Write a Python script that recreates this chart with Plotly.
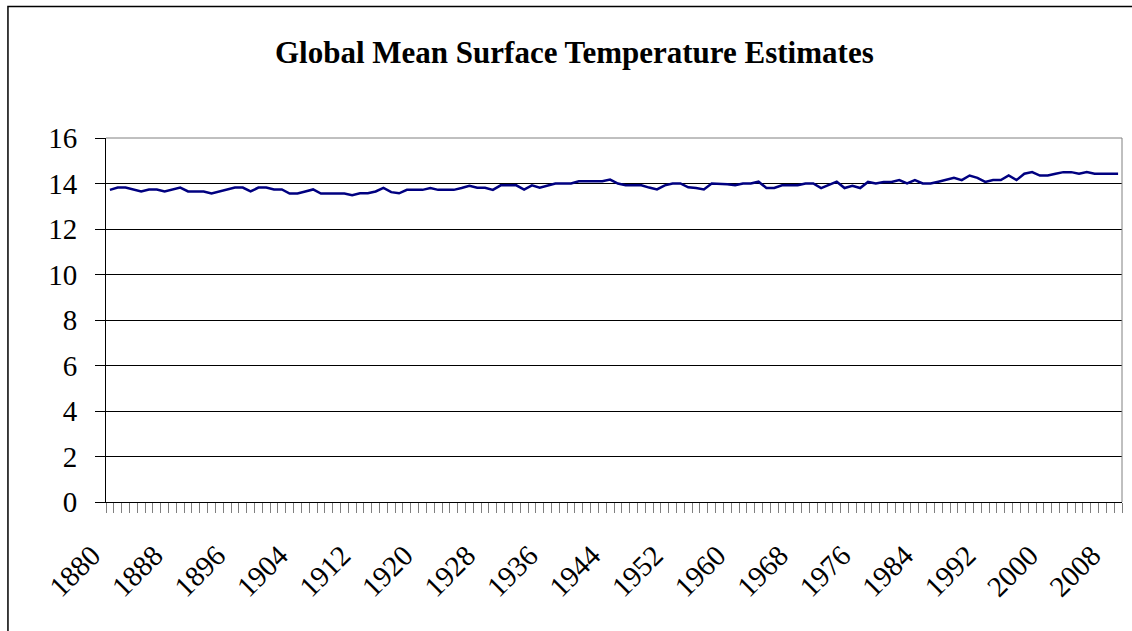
import plotly.graph_objects as go

# Annual global mean surface temperature (deg C), 1880-2009
years = list(range(1880, 2010))
temps = [
    13.72, 13.82, 13.82, 13.73, 13.65, 13.74, 13.74, 13.65, 13.73, 13.82,  # 1880s
    13.65, 13.65, 13.65, 13.56, 13.65, 13.74, 13.82, 13.82, 13.65, 13.82,  # 1890s
    13.82, 13.74, 13.74, 13.56, 13.56, 13.65, 13.74, 13.56, 13.56, 13.56,  # 1900s
    13.56, 13.49, 13.57, 13.57, 13.65, 13.81, 13.62, 13.57, 13.72, 13.72,  # 1910s
    13.72, 13.80, 13.72, 13.72, 13.72, 13.80, 13.90, 13.81, 13.81, 13.72,  # 1920s
    13.92, 13.92, 13.92, 13.73, 13.92, 13.82, 13.90, 14.00, 14.00, 14.00,  # 1930s
    14.10, 14.10, 14.10, 14.10, 14.17, 14.00, 13.92, 13.92, 13.92, 13.82,  # 1940s
    13.74, 13.92, 14.00, 14.00, 13.83, 13.80, 13.74, 14.00, 14.00, 13.97,  # 1950s
    13.92, 14.00, 14.00, 14.08, 13.80, 13.80, 13.92, 13.92, 13.92, 14.00,  # 1960s
    14.00, 13.80, 13.95, 14.08, 13.80, 13.90, 13.80, 14.07, 14.00, 14.07,  # 1970s
    14.07, 14.15, 14.00, 14.15, 14.00, 14.00, 14.08, 14.16, 14.25, 14.15,  # 1980s
    14.35, 14.25, 14.07, 14.15, 14.15, 14.35, 14.15, 14.43, 14.50, 14.35,  # 1990s
    14.35, 14.43, 14.50, 14.50, 14.43, 14.50, 14.43, 14.43, 14.43, 14.43,  # 2000s
]
label_years = list(range(1880, 2010, 8))
y_ticks = list(range(0, 17, 2))

SERIF = "Liberation Serif"

fig = go.Figure()
fig.add_trace(go.Scatter(
    x=years, y=temps, mode="lines",
    line=dict(color="#000080", width=2.5),
    hoverinfo="x+y", showlegend=False,
))

fig.update_layout(
    width=1132, height=631,
    margin=dict(l=106, r=10, t=138, b=129),
    paper_bgcolor="white", plot_bgcolor="white",
    font=dict(family=SERIF, color="black", size=29),
    showlegend=False,
    xaxis=dict(
        range=[years[0] - 0.5, years[-1] + 0.5],
        tickmode="array",
        tickvals=label_years,
        ticktext=[str(y) for y in label_years],
        tickangle=-45,
        ticks="",
        showgrid=False, zeroline=False,
        showline=True, linecolor="black", linewidth=1,
        tickfont=dict(family=SERIF, size=29, color="black"),
        ticklabelstandoff=24,
        ticklabelshift=-18,
        minor=dict(ticks="outside", ticklen=10, tickcolor="#808080",
                   tickwidth=1, tick0=years[0] - 0.5, dtick=1, showgrid=False),
    ),
    yaxis=dict(
        range=[0, 16],
        tickmode="array", tickvals=y_ticks,
        ticks="outside", ticklen=10, tickcolor="black", tickwidth=1,
        showgrid=True, gridcolor="black", gridwidth=1,
        zeroline=False,
        showline=True, linecolor="black", linewidth=1,
        tickfont=dict(family=SERIF, size=29, color="black"),
        ticklabelstandoff=12,
    ),
    annotations=[dict(
        text="<b>Global Mean Surface Temperature Estimates</b>",
        xref="paper", yref="paper", x=0.4613, y=1.235,
        xanchor="center", yanchor="middle", showarrow=False,
        font=dict(family=SERIF, size=31, color="black"),
    )],
    shapes=[
        # plot-area border on the top and right edges
        dict(type="line", xref="paper", yref="paper", x0=0, x1=1, y0=1, y1=1,
             line=dict(color="#808080", width=1), layer="above"),
        dict(type="line", xref="paper", yref="paper", x0=1, x1=1, y0=0, y1=1,
             line=dict(color="#808080", width=1), layer="above"),
        # chart-area frame
        dict(type="rect", xref="paper", yref="paper",
             x0=-0.0965, x1=1.3, y0=-1.0, y1=1.361,
             line=dict(color="black", width=1.5), fillcolor="rgba(0,0,0,0)",
             layer="below"),
    ],
)

fig.write_html("out.html")
